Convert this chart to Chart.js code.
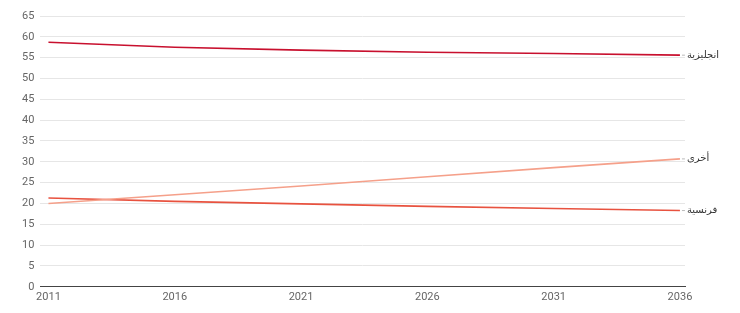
<!DOCTYPE html>
<html>
<head>
<meta charset="utf-8">
<script src="https://cdn.jsdelivr.net/npm/chart.js@4"></script>
<style>
  html, body { margin: 0; padding: 0; background: #fff; }
  #wrap { width: 740px; height: 313px; }
</style>
</head>
<body>
<div id="wrap"><canvas id="myChart" width="740" height="313"></canvas></div>
<script>
const years = [2011, 2016, 2021, 2026, 2031, 2036];
const english = [58.7, 57.5, 56.8, 56.3, 56.0, 55.6];
const other = [20.0, 22.1, 24.2, 26.4, 28.6, 30.7];
const french = [21.3, 20.5, 19.9, 19.3, 18.8, 18.3];
const seriesNames = ["انجليزية", "أخرى", "فرنسية"];
const yTicks = [0, 5, 10, 15, 20, 25, 30, 35, 40, 45, 50, 55, 60, 65];

const toPoints = (vals) => vals.map((v, i) => ({ x: years[i], y: v }));

// draws the series name at the end of each line
const endLabels = {
  id: "endLabels",
  afterDatasetsDraw(chart) {
    const ctx = chart.ctx;
    ctx.save();
    ctx.font = "10px 'DejaVu Sans', sans-serif";
    ctx.textBaseline = "middle";
    ctx.textAlign = "left";
    chart.data.datasets.forEach((ds, i) => {
      const meta = chart.getDatasetMeta(i);
      const pt = meta.data[meta.data.length - 1];
      ctx.strokeStyle = "#bbb";
      ctx.lineWidth = 1;
      ctx.beginPath();
      ctx.moveTo(pt.x + 2, pt.y);
      ctx.lineTo(pt.x + 5, pt.y);
      ctx.stroke();
      ctx.fillStyle = "#333";
      ctx.fillText(ds.label, pt.x + 7, pt.y);
    });
    ctx.restore();
  },
};

new Chart(document.getElementById("myChart"), {
  type: "line",
  data: {
    datasets: [
      { label: seriesNames[0], data: toPoints(english), borderColor: "#c8102e" },
      { label: seriesNames[1], data: toPoints(other), borderColor: "#f5a08a" },
      { label: seriesNames[2], data: toPoints(french), borderColor: "#e8523f" },
    ],
  },
  options: {
    responsive: false,
    animation: false,
    layout: { padding: { left: 16, right: 55, top: 16, bottom: 5 } },
    elements: {
      line: { borderWidth: 1.6, tension: 0 },
      point: { radius: 0 },
    },
    scales: {
      x: {
        type: "linear",
        min: 2010.68,
        max: 2036.2,
        afterBuildTicks(axis) {
          axis.ticks = years.map((v) => ({ value: v }));
        },
        grid: { display: false, drawTicks: false },
        border: { display: true, color: "#444", width: 1 },
        ticks: {
          color: "#666",
          font: { size: 11, family: "Roboto, sans-serif" },
          padding: 4,
          maxRotation: 0,
          callback: (v) => String(v),
        },
      },
      y: {
        min: 0,
        max: 65,
        afterBuildTicks(axis) {
          axis.ticks = yTicks.map((v) => ({ value: v }));
        },
        grid: { color: "#e6e6e6", drawTicks: false },
        border: { display: false },
        ticks: {
          color: "#666",
          font: { size: 11, family: "Roboto, sans-serif" },
          padding: 6,
        },
      },
    },
    plugins: {
      legend: { display: false },
      tooltip: { enabled: false },
    },
  },
  plugins: [endLabels],
});
</script>
</body>
</html>
